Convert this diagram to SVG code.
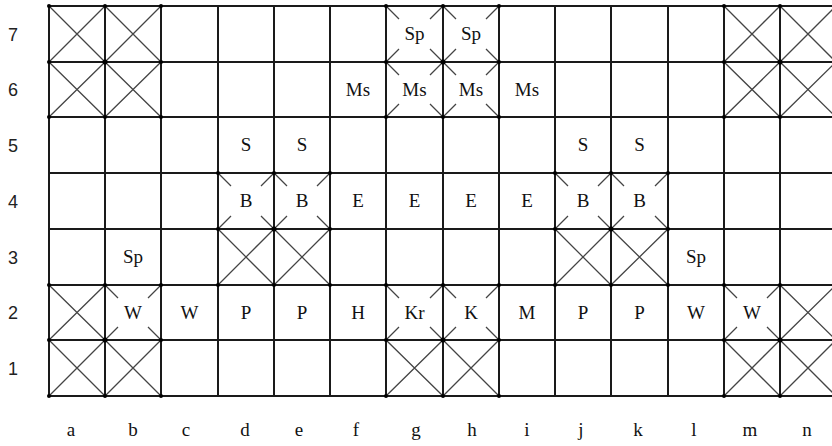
<svg xmlns="http://www.w3.org/2000/svg" width="832" height="446" viewBox="0 0 832 446">
<style>
.grid{stroke:#1a1a1a;stroke-width:2;fill:none}
.x{stroke:#444;stroke-width:1.3;fill:none}
.dot{fill:#000}
.pc{font-family:"Liberation Serif","DejaVu Serif",serif;font-size:19px;fill:#111;text-anchor:middle}
.row{font-family:"Liberation Sans","DejaVu Sans",sans-serif;font-size:18px;fill:#222;text-anchor:middle}
.col{font-family:"Liberation Serif","DejaVu Serif",serif;font-size:19px;fill:#111;text-anchor:middle}
</style>
<rect width="832" height="446" fill="#fff"/>
<g id="connectors">
<g id="grid" class="grid">
<path d="M49 6H836M49 62H836M49 117H836M49 173H836M49 229H836M49 285H836M49 340H836M49 396H836"/>
<path d="M49 6V396M105 6V396M161 6V396M218 6V396M274 6V396M330 6V396M386 6V396M443 6V396M499 6V396M555 6V396M611 6V396M668 6V396M724 6V396M780 6V396"/>
</g>
<g id="crosses" class="x">
<path d="M49 6L105 62M105 6L49 62M105 6L161 62M161 6L105 62M724 6L780 62M780 6L724 62M780 6L836 62M836 6L780 62"/>
<path d="M49 62L105 117M105 62L49 117M105 62L161 117M161 62L105 117M724 62L780 117M780 62L724 117M780 62L836 117M836 62L780 117"/>
<path d="M218 229L274 285M274 229L218 285M274 229L330 285M330 229L274 285M555 229L611 285M611 229L555 285M611 229L668 285M668 229L611 285"/>
<path d="M49 285L105 340M105 285L49 340M780 285L836 340M836 285L780 340"/>
<path d="M49 340L105 396M105 340L49 396M105 340L161 396M161 340L105 396M386 340L443 396M443 340L386 396M443 340L499 396M499 340L443 396M724 340L780 396M780 340L724 396M780 340L836 396M836 340L780 396"/>
</g>
<g id="partial-crosses" class="x">
<path d="M386 6l13 13M443 6l-13 13M386 62l13 -13M443 62l-13 -13"/>
<path d="M443 6l13 13M499 6l-13 13M443 62l13 -13M499 62l-13 -13"/>
<path d="M386 62l13 13M443 62l-13 13M386 117l13 -13M443 117l-13 -13"/>
<path d="M443 62l13 13M499 62l-13 13M443 117l13 -13M499 117l-13 -13"/>
<path d="M218 173l13 13M274 173l-13 13M218 229l13 -13M274 229l-13 -13"/>
<path d="M274 173l13 13M330 173l-13 13M274 229l13 -13M330 229l-13 -13"/>
<path d="M555 173l13 13M611 173l-13 13M555 229l13 -13M611 229l-13 -13"/>
<path d="M611 173l13 13M668 173l-13 13M611 229l13 -13M668 229l-13 -13"/>
<path d="M105 285l13 13M161 285l-13 13M105 340l13 -13M161 340l-13 -13"/>
<path d="M386 285l13 13M443 285l-13 13M386 340l13 -13M443 340l-13 -13"/>
<path d="M443 285l13 13M499 285l-13 13M443 340l13 -13M499 340l-13 -13"/>
<path d="M724 285l13 13M780 285l-13 13M724 340l13 -13M780 340l-13 -13"/>
</g>
<g id="dots" class="dot">
<circle cx="49" cy="6" r="2"/><circle cx="105" cy="6" r="2"/><circle cx="161" cy="6" r="2"/>
<circle cx="49" cy="62" r="2"/><circle cx="105" cy="62" r="2.5"/><circle cx="161" cy="62" r="2"/>
<circle cx="49" cy="117" r="2"/><circle cx="105" cy="117" r="2"/><circle cx="161" cy="117" r="2"/>
<circle cx="724" cy="6" r="2"/><circle cx="780" cy="6" r="2"/>
<circle cx="724" cy="62" r="2"/><circle cx="780" cy="62" r="2.5"/>
<circle cx="724" cy="117" r="2"/><circle cx="780" cy="117" r="2"/>
<circle cx="386" cy="6" r="2"/><circle cx="443" cy="6" r="2"/><circle cx="499" cy="6" r="2"/>
<circle cx="386" cy="62" r="2"/><circle cx="443" cy="62" r="2.5"/><circle cx="499" cy="62" r="2"/>
<circle cx="386" cy="117" r="2"/><circle cx="443" cy="117" r="2"/><circle cx="499" cy="117" r="2"/>
<circle cx="218" cy="173" r="2"/><circle cx="274" cy="173" r="2"/><circle cx="330" cy="173" r="2"/>
<circle cx="218" cy="229" r="2"/><circle cx="274" cy="229" r="2.5"/><circle cx="330" cy="229" r="2"/>
<circle cx="218" cy="285" r="2"/><circle cx="274" cy="285" r="2"/><circle cx="330" cy="285" r="2"/>
<circle cx="555" cy="173" r="2"/><circle cx="611" cy="173" r="2"/><circle cx="668" cy="173" r="2"/>
<circle cx="555" cy="229" r="2"/><circle cx="611" cy="229" r="2.5"/><circle cx="668" cy="229" r="2"/>
<circle cx="555" cy="285" r="2"/><circle cx="611" cy="285" r="2"/><circle cx="668" cy="285" r="2"/>
<circle cx="49" cy="285" r="2"/><circle cx="105" cy="285" r="2"/><circle cx="161" cy="285" r="2"/>
<circle cx="49" cy="340" r="2"/><circle cx="105" cy="340" r="2.5"/><circle cx="161" cy="340" r="2"/>
<circle cx="49" cy="396" r="2"/><circle cx="105" cy="396" r="2"/><circle cx="161" cy="396" r="2"/>
<circle cx="386" cy="285" r="2"/><circle cx="443" cy="285" r="2"/><circle cx="499" cy="285" r="2"/>
<circle cx="386" cy="340" r="2"/><circle cx="443" cy="340" r="2.5"/><circle cx="499" cy="340" r="2"/>
<circle cx="386" cy="396" r="2"/><circle cx="443" cy="396" r="2"/><circle cx="499" cy="396" r="2"/>
<circle cx="724" cy="285" r="2"/><circle cx="780" cy="285" r="2"/>
<circle cx="724" cy="340" r="2"/><circle cx="780" cy="340" r="2.5"/>
<circle cx="724" cy="396" r="2"/><circle cx="780" cy="396" r="2"/>
</g>
</g>
<g id="pieces" class="pc">
<g id="g7"><text x="414.5" y="40">Sp</text></g>
<g id="h7"><text x="471" y="40">Sp</text></g>
<g id="f6"><text x="358" y="95.5">Ms</text></g>
<g id="g6"><text x="414.5" y="95.5">Ms</text></g>
<g id="h6"><text x="471" y="95.5">Ms</text></g>
<g id="i6"><text x="527" y="95.5">Ms</text></g>
<g id="d5"><text x="246" y="151">S</text></g>
<g id="e5"><text x="302" y="151">S</text></g>
<g id="j5"><text x="583" y="151">S</text></g>
<g id="k5"><text x="639.5" y="151">S</text></g>
<g id="d4"><text x="246" y="207">B</text></g>
<g id="e4"><text x="302" y="207">B</text></g>
<g id="f4"><text x="358" y="207">E</text></g>
<g id="g4"><text x="414.5" y="207">E</text></g>
<g id="h4"><text x="471" y="207">E</text></g>
<g id="i4"><text x="527" y="207">E</text></g>
<g id="j4"><text x="583" y="207">B</text></g>
<g id="k4"><text x="639.5" y="207">B</text></g>
<g id="b3"><text x="133" y="263">Sp</text></g>
<g id="l3"><text x="696" y="263">Sp</text></g>
<g id="b2"><text x="133" y="318.5">W</text></g>
<g id="c2"><text x="189.5" y="318.5">W</text></g>
<g id="d2"><text x="246" y="318.5">P</text></g>
<g id="e2"><text x="302" y="318.5">P</text></g>
<g id="f2"><text x="358" y="318.5">H</text></g>
<g id="g2"><text x="414.5" y="318.5">Kr</text></g>
<g id="h2"><text x="471" y="318.5">K</text></g>
<g id="i2"><text x="527" y="318.5">M</text></g>
<g id="j2"><text x="583" y="318.5">P</text></g>
<g id="k2"><text x="639.5" y="318.5">P</text></g>
<g id="l2"><text x="696" y="318.5">W</text></g>
<g id="m2"><text x="752" y="318.5">W</text></g>
</g>
<g id="row-labels" class="row">
<text x="13" y="41">7</text>
<text x="13" y="96">6</text>
<text x="13" y="152">5</text>
<text x="13" y="208">4</text>
<text x="13" y="264">3</text>
<text x="13" y="319">2</text>
<text x="13" y="375">1</text>
</g>
<g id="col-labels" class="col">
<text x="71" y="436">a</text>
<text x="133" y="436">b</text>
<text x="186" y="436">c</text>
<text x="245" y="436">d</text>
<text x="299" y="436">e</text>
<text x="356" y="436">f</text>
<text x="416" y="436">g</text>
<text x="472" y="436">h</text>
<text x="527" y="436">i</text>
<text x="581" y="436">j</text>
<text x="638" y="436">k</text>
<text x="694" y="436">l</text>
<text x="750" y="436">m</text>
<text x="807" y="436">n</text>
</g>
</svg>
